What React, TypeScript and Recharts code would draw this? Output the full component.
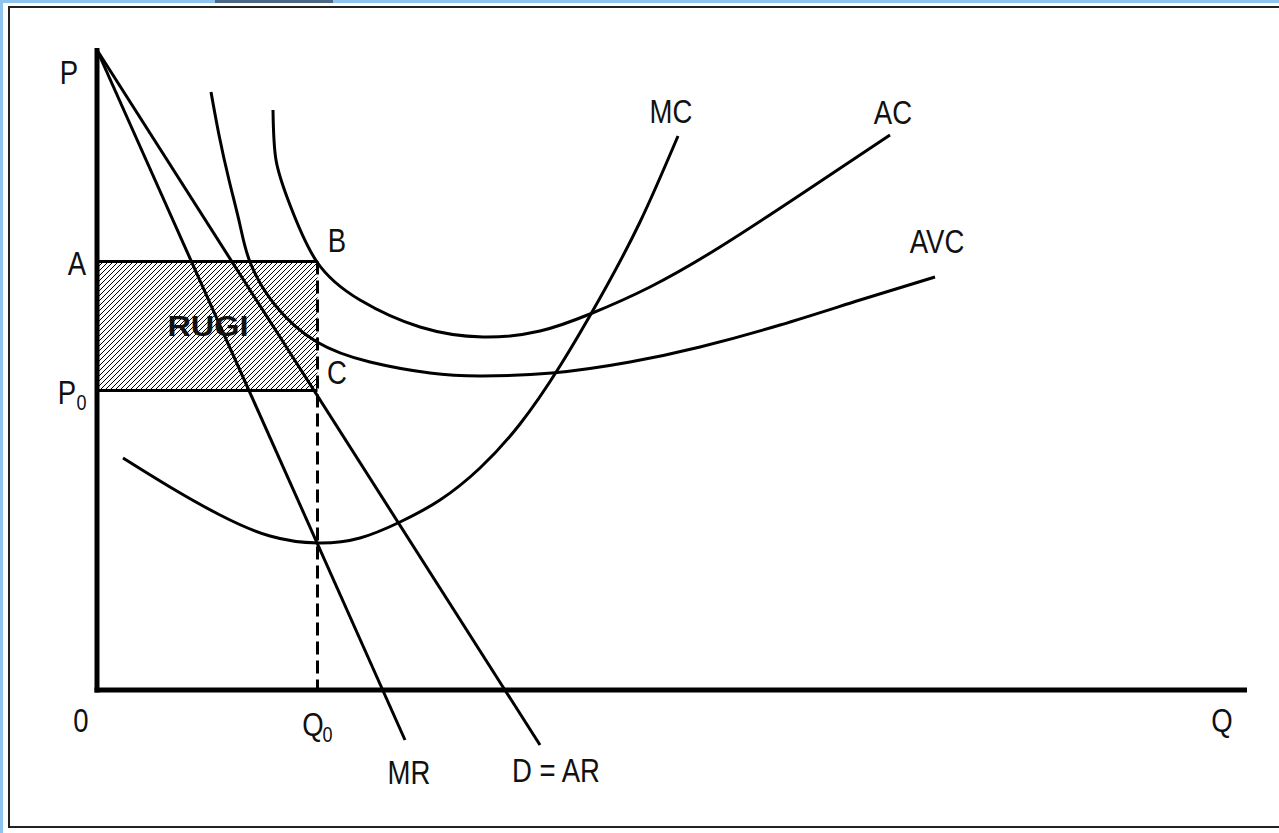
import React from "react";
import { LineChart, Line, XAxis, YAxis, ReferenceArea, ReferenceLine, ReferenceDot } from "recharts";

// quantities on Q, prices on P (arbitrary units)
const Q_TOP = 64.2;
const Q_MAX = 115;
const Q0 = 22.05;
const A_PRICE = 42.85;
const P0_PRICE = 29.95;

const mrCurve = [
  { q: 0, p: 64 },
  { q: 30.8, p: -5.0 },
];

const demandCurve = [
  { q: 0, p: 64 },
  { q: 44.3, p: -5.5 },
];

const mcCurve = [
  { q: 2.6, p: 23.2 },
  { q: 7.3, p: 20.3 },
  { q: 12.3, p: 17.5 },
  { q: 17.3, p: 15.4 },
  { q: 22.1, p: 14.7 },
  { q: 26.3, p: 15.2 },
  { q: 30.3, p: 16.8 },
  { q: 34.3, p: 19.0 },
  { q: 38.3, p: 22.2 },
  { q: 42.3, p: 26.6 },
  { q: 46.3, p: 32.4 },
  { q: 50.3, p: 39.2 },
  { q: 54.3, p: 46.8 },
  { q: 58.1, p: 55.4 },
];

const acCurve = [
  { q: 17.6, p: 58.0 },
  { q: 17.9, p: 53.0 },
  { q: 19.3, p: 48.5 },
  { q: 22.0, p: 42.8 },
  { q: 26.3, p: 39.0 },
  { q: 32.3, p: 36.3 },
  { q: 38.6, p: 35.3 },
  { q: 44.3, p: 35.9 },
  { q: 49.3, p: 37.6 },
  { q: 55.3, p: 40.3 },
  { q: 62.3, p: 44.3 },
  { q: 70.3, p: 49.5 },
  { q: 79.3, p: 55.5 },
];

const avcCurve = [
  { q: 11.4, p: 59.8 },
  { q: 12.2, p: 55.5 },
  { q: 13.2, p: 51.0 },
  { q: 14.3, p: 46.5 },
  { q: 15.3, p: 42.8 },
  { q: 17.8, p: 38.5 },
  { q: 22.0, p: 34.8 },
  { q: 27.3, p: 32.8 },
  { q: 33.3, p: 31.7 },
  { q: 38.3, p: 31.4 },
  { q: 45.5, p: 31.7 },
  { q: 53.3, p: 32.8 },
  { q: 60.3, p: 34.3 },
  { q: 68.3, p: 36.5 },
  { q: 76.3, p: 39.0 },
  { q: 83.8, p: 41.3 },
];

const labels = [
  { text: "P", sub: "", q: -2.8, p: 61.8 },
  { text: "A", sub: "", q: -2.0, p: 42.7 },
  { text: "P", sub: "0", q: -3.0, p: 29.8 },
  { text: "0", sub: "", q: -1.6, p: -3.0 },
  { text: "Q", sub: "0", q: 21.6, p: -3.4 },
  { text: "MR", sub: "", q: 31.2, p: -8.2 },
  { text: "D = AR", sub: "", q: 45.9, p: -8.0 },
  { text: "Q", sub: "", q: 112.5, p: -3.0 },
  { text: "B", sub: "", q: 24.0, p: 45.0 },
  { text: "C", sub: "", q: 24.0, p: 31.8 },
  { text: "MC", sub: "", q: 57.4, p: 57.9 },
  { text: "AC", sub: "", q: 79.6, p: 57.8 },
  { text: "AVC", sub: "", q: 84.0, p: 44.9 },
];

const lossLabel = { text: "RUGI", q: 11.1, p: 36.4 };

const W = 1279;
const H = 833;
const FONT = "'Liberation Sans', Arial, sans-serif";

function TextMark(props: any) {
  const { cx, cy, item, bold } = props;
  if (cx == null || cy == null) return null;
  return (
    <g transform={`translate(${cx},${cy}) scale(${bold ? "1.12,1" : "0.95,1.15"})`}>
      <text
        x={0}
        y={0}
        textAnchor="middle"
        dominantBaseline="central"
        fontFamily={FONT}
        fontSize={bold ? 29 : 29}
        fontWeight={bold ? 700 : 400}
        fill="#111"
      >
        {item.text}
      </text>
      {item.sub ? (
        <text x={10} y={9} dominantBaseline="central" fontFamily={FONT} fontSize={19} fill="#111">
          {item.sub}
        </text>
      ) : null}
    </g>
  );
}

const lineProps = {
  dataKey: "p",
  type: "natural" as const,
  stroke: "#000",
  strokeWidth: 3,
  dot: false,
  activeDot: false,
  isAnimationActive: false,
};

export default function App() {
  return (
    <div style={{ position: "absolute", left: 0, top: 0, width: W, height: H, background: "#fff", overflow: "hidden" }}>
      {/* window frame */}
      <div style={{ position: "absolute", left: 0, top: 0, width: W, height: 3, background: "#8ec3ee" }} />
      <div style={{ position: "absolute", left: 215, top: 0, width: 118, height: 3, background: "#4c6985" }} />
      <div style={{ position: "absolute", left: 0, top: 0, width: 3, height: H, background: "#8ec3ee" }} />
      <div
        style={{
          position: "absolute",
          left: 8,
          top: 6,
          width: W,
          height: 822,
          borderLeft: "2px solid #222",
          borderTop: "2px solid #222",
          borderBottom: "2px solid #222",
          boxSizing: "border-box",
        }}
      />
      <div style={{ position: "absolute", left: 0, top: 0 }}>
        <LineChart width={W} height={H} margin={{ top: 0, right: 0, bottom: 0, left: 0 }}>
          <defs>
            <pattern id="hatch" patternUnits="userSpaceOnUse" width="5" height="5">
              <path d="M-1,1 l2,-2 M0,5 l5,-5 M4,6 l2,-2" stroke="#000" strokeWidth="1" />
            </pattern>
          </defs>
          <XAxis type="number" dataKey="q" domain={[-9.7, 118.2]} allowDataOverflow hide />
          <YAxis type="number" domain={[-14.3, 69]} allowDataOverflow hide />

          <ReferenceArea x1={0} x2={Q0} y1={P0_PRICE} y2={A_PRICE} fill="url(#hatch)" fillOpacity={1} stroke="none" />
          <ReferenceLine segment={[{ x: 0, y: A_PRICE }, { x: Q0, y: A_PRICE }]} stroke="#000" strokeWidth={3} />
          <ReferenceLine segment={[{ x: 0, y: P0_PRICE }, { x: Q0, y: P0_PRICE }]} stroke="#000" strokeWidth={3} />
          <ReferenceLine segment={[{ x: Q0, y: A_PRICE }, { x: Q0, y: 0 }]} stroke="#000" strokeWidth={3} strokeDasharray="13 6" />

          <ReferenceLine segment={[{ x: 0, y: Q_TOP }, { x: 0, y: -0.25 }]} stroke="#000" strokeWidth={5} />
          <ReferenceLine segment={[{ x: -0.25, y: 0 }, { x: Q_MAX, y: 0 }]} stroke="#000" strokeWidth={5} />

          <Line data={mrCurve} {...lineProps} type="linear" />
          <Line data={demandCurve} {...lineProps} type="linear" />
          <Line data={mcCurve} {...lineProps} />
          <Line data={acCurve} {...lineProps} />
          <Line data={avcCurve} {...lineProps} />

          {labels.map((l, i) => (
            <ReferenceDot
              key={i}
              x={l.q}
              y={l.p}
              r={0}
              ifOverflow="visible"
              shape={(props: any) => <TextMark {...props} item={l} />}
            />
          ))}
          <ReferenceDot
            x={lossLabel.q}
            y={lossLabel.p}
            r={0}
            ifOverflow="visible"
            shape={(props: any) => <TextMark {...props} item={{ text: lossLabel.text, sub: "" }} bold />}
          />
        </LineChart>
      </div>
    </div>
  );
}
